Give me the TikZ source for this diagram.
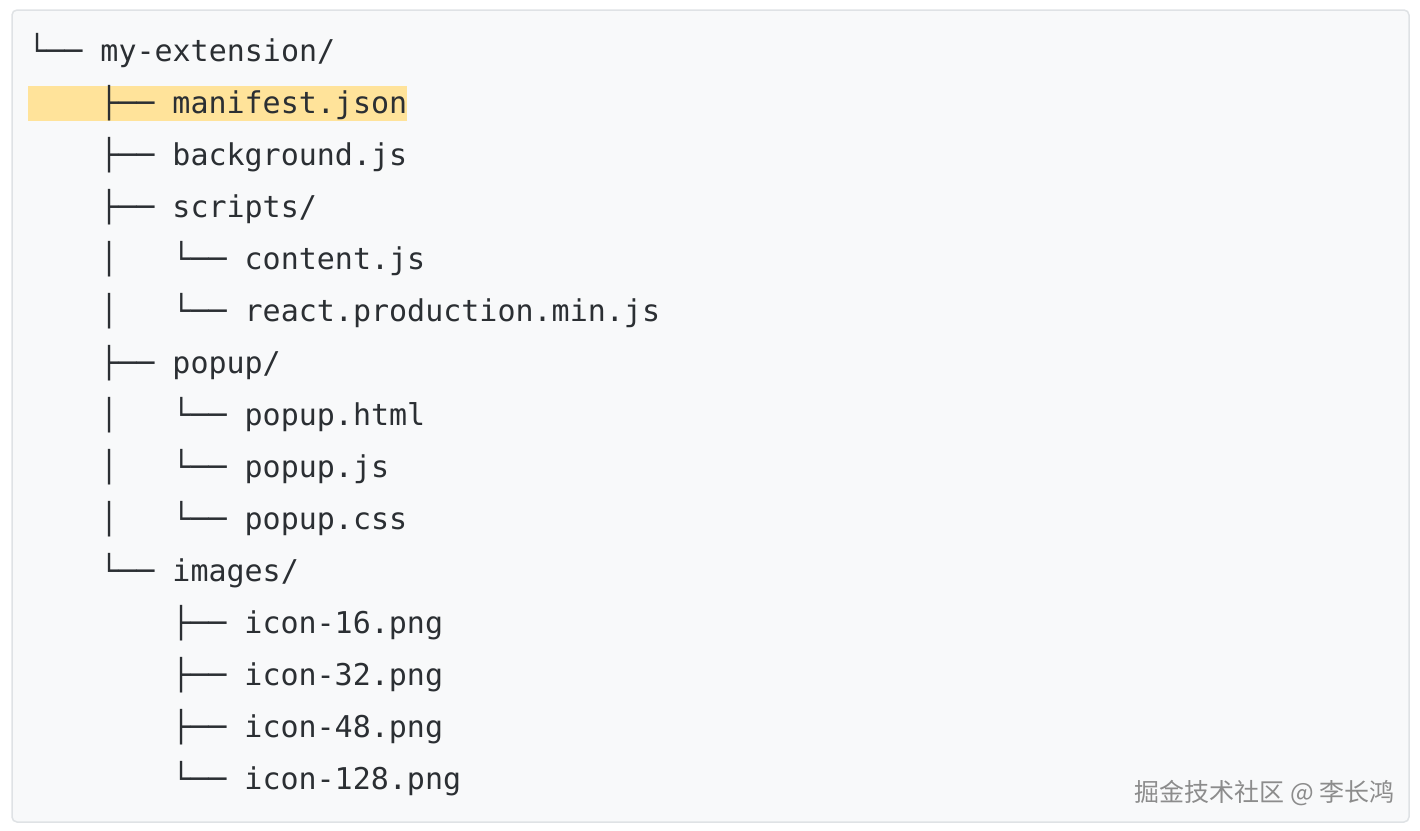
\documentclass[tikz,border=0pt]{standalone}
\usepackage{fontspec}
\setmonofont{DejaVu Sans Mono}
\newfontfamily\cjk{Noto Sans CJK SC}
\usetikzlibrary{calc}

\definecolor{codebg}{HTML}{F8F9FA}
\definecolor{codeborder}{HTML}{DFE2E5}
\definecolor{codetext}{HTML}{2B2F33}
\definecolor{hilite}{HTML}{FFE39A}
\definecolor{markgray}{HTML}{8C8C8C}

\newcommand{\gap}{\hphantom{xxx}}

\begin{document}
\begin{tikzpicture}[x=1pt, y=-1pt,
    row/.style={anchor=base west, inner sep=0pt, text=codetext, font=\ttfamily\fontsize{30}{36}\selectfont}]
  \useasboundingbox (0,0) rectangle (1420,830);
  \draw[codeborder, fill=codebg, rounded corners=5pt, line width=1.5pt] (12,10) rectangle (1409,822);
  \fill[hilite] (28,86) rectangle (407,121);

  \node[row] (root) at (28, 61) {└── my-extension/};
  \node[row] (manifest) at (100, 113) {├── manifest.json};
  \node[row] (background) at (100, 165) {├── background.js};
  \node[row] (scripts) at (100, 217) {├── scripts/};
  \node[row] (content) at (100, 269) {│\gap└── content.js};
  \node[row] (react) at (100, 321) {│\gap└── react.production.min.js};
  \node[row] (popup) at (100, 373) {├── popup/};
  \node[row] (popuphtml) at (100, 425) {│\gap└── popup.html};
  \node[row] (popupjs) at (100, 477) {│\gap└── popup.js};
  \node[row] (popupcss) at (100, 529) {│\gap└── popup.css};
  \node[row] (images) at (100, 581) {└── images/};
  \node[row] (icon16) at (172, 633) {├── icon-16.png};
  \node[row] (icon32) at (172, 685) {├── icon-32.png};
  \node[row] (icon48) at (172, 737) {├── icon-48.png};
  \node[row] (icon128) at (172, 789) {└── icon-128.png};

  \node[anchor=base east, inner sep=0pt, text=markgray, font=\cjk\fontsize{25}{30}\selectfont] (watermark) at (1395, 801) {掘金技术社区 @ 李长鸿};
\end{tikzpicture}
\end{document}
